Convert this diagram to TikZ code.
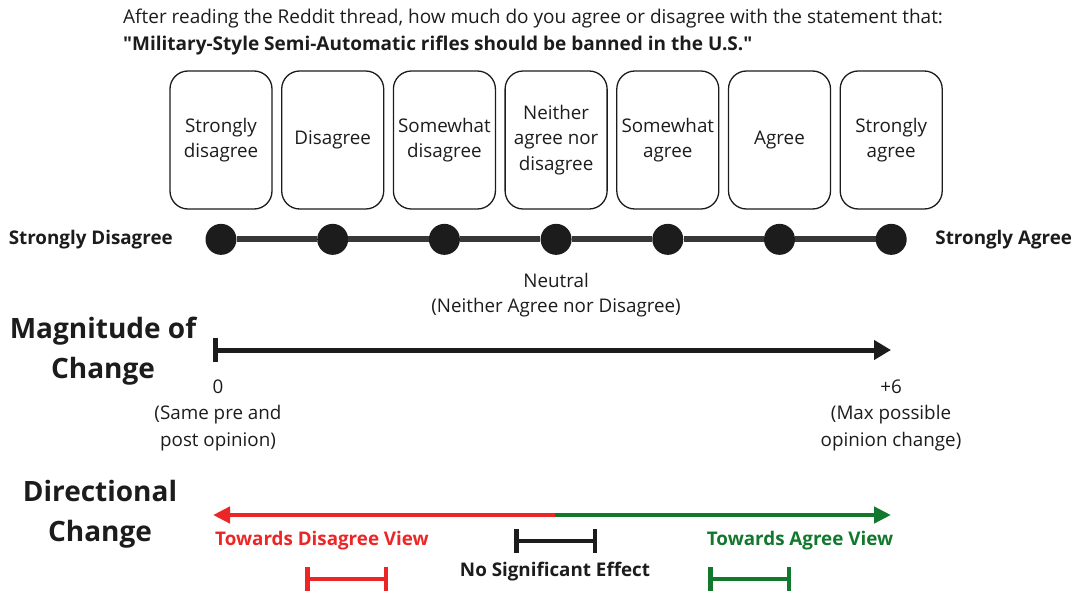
\documentclass[tikz,border=0pt]{standalone}
\usepackage{fontspec}
\setmainfont{Open Sans}[Ligatures=TeXOff]
\usetikzlibrary{arrows.meta, positioning}
\definecolor{inkBlack}{RGB}{28,28,28}
\definecolor{lineGray}{RGB}{55,55,55}
\definecolor{disRed}{RGB}{236,38,38}
\definecolor{agrGreen}{RGB}{18,120,46}

\begin{document}
\begin{tikzpicture}[
    x=1pt, y=1pt,
    every node/.style={font=\fontsize{18.8}{25.5}\selectfont, text=inkBlack},
    choice/.style={rectangle, draw=inkBlack, rounded corners=18pt, line width=1.3pt, minimum width=102pt, minimum height=138pt, align=center},
    dot/.style={circle, fill=inkBlack, minimum size=31pt, inner sep=0pt},
    endlabel/.style={font=\fontsize{18.8}{24}\selectfont\bfseries},
    biglabel/.style={font=\fontsize{28}{40}\selectfont\bfseries, align=center},
    note/.style={align=center, font=\fontsize{18.8}{26.5}\selectfont},
    scaleline/.style={line width=6pt, lineGray},
    magarrow/.style={{Bar[width=24pt]}-{Triangle[length=17pt, width=19pt]}, line width=5pt, inkBlack},
    dirarrow/.style={-{Triangle[length=17pt, width=16pt]}, line width=4.5pt},
    sigbar/.style={{Bar[width=24pt]}-{Bar[width=24pt]}, line width=4.5pt}
]
\useasboundingbox (0,0) rectangle (1074,-596);

% Question
\node[anchor=west, align=left, inner sep=0pt, font=\fontsize{19}{27}\selectfont] (question) at (123,-32) {After reading the Reddit thread, how much do you agree or disagree with the statement that:\\\textbf{"Military-Style Semi-Automatic rifles should be banned in the U.S."}};

% Row 1: answer boxes
\node[choice] (strongDis) at (221,-140) {Strongly\\disagree};
\node[choice, right=8.4pt of strongDis] (dis) {Disagree};
\node[choice, right=8.4pt of dis] (someDis) {Somewhat\\disagree};
\node[choice, right=8.4pt of someDis] (neither) {Neither\\agree nor\\disagree};
\node[choice, right=8.4pt of neither] (someAgr) {Somewhat\\agree};
\node[choice, right=8.4pt of someAgr] (agr) {Agree};
\node[choice, right=8.4pt of agr] (strongAgr) {Strongly\\agree};

% Row 2: scale points
\node[dot, below=14pt of strongDis] (pStrongDis) {};
\node[dot, below=14pt of dis] (pDis) {};
\node[dot, below=14pt of someDis] (pSomeDis) {};
\node[dot, below=14pt of neither] (pNeither) {};
\node[dot, below=14pt of someAgr] (pSomeAgr) {};
\node[dot, below=14pt of agr] (pAgr) {};
\node[dot, below=14pt of strongAgr] (pStrongAgr) {};

\draw[scaleline] (pStrongDis) -- (pDis);
\draw[scaleline] (pDis) -- (pSomeDis);
\draw[scaleline] (pSomeDis) -- (pNeither);
\draw[scaleline] (pNeither) -- (pSomeAgr);
\draw[scaleline] (pSomeAgr) -- (pAgr);
\draw[scaleline] (pAgr) -- (pStrongAgr);

\node[endlabel, left=29pt of pStrongDis] (lblStrongDis) {Strongly Disagree};
\node[endlabel, right=25pt of pStrongAgr] (lblStrongAgr) {Strongly Agree};
\node[note, font=\fontsize{18.8}{25}\selectfont, below=15pt of pNeither] (neutral) {Neutral\\(Neither Agree nor Disagree)};

% Magnitude of change
\node[biglabel] (magTitle) at (103,-351) {Magnitude of\\Change};
\coordinate (magStart) at (213,-350);
\coordinate (magEnd) at (891,-350);
\draw[magarrow] (magStart) -- (magEnd);
\node[note] (magZero) at (218,-415) {0\\(Same pre and\\post opinion)};
\node[note] (magSix) at (891,-415) {+6\\(Max possible\\opinion change)};

% Directional change
\node[biglabel] (dirTitle) at (100,-514) {Directional\\Change};
\coordinate (dirMid) at (555,-515);
\coordinate (dirLeft) at (213,-515);
\coordinate (dirRight) at (891,-515);
\draw[dirarrow, disRed] (dirMid) -- (dirLeft);
\draw[dirarrow, agrGreen] (dirMid) -- (dirRight);
\node[endlabel, text=disRed] (towardsDis) at (322,-541) {Towards Disagree View};
\node[endlabel, text=agrGreen] (towardsAgr) at (800,-541) {Towards Agree View};

% Significance bars
\coordinate (nullL) at (514,-541);
\coordinate (nullR) at (597,-541);
\draw[sigbar, inkBlack] (nullL) -- (nullR);
\node[endlabel] (noEffect) at (555,-572) {No Significant Effect};
\coordinate (disL) at (305,-579);
\coordinate (disR) at (388,-579);
\draw[sigbar, disRed] (disL) -- (disR);
\coordinate (agrL) at (708,-579);
\coordinate (agrR) at (791,-579);
\draw[sigbar, agrGreen] (agrL) -- (agrR);

\end{tikzpicture}
\end{document}
